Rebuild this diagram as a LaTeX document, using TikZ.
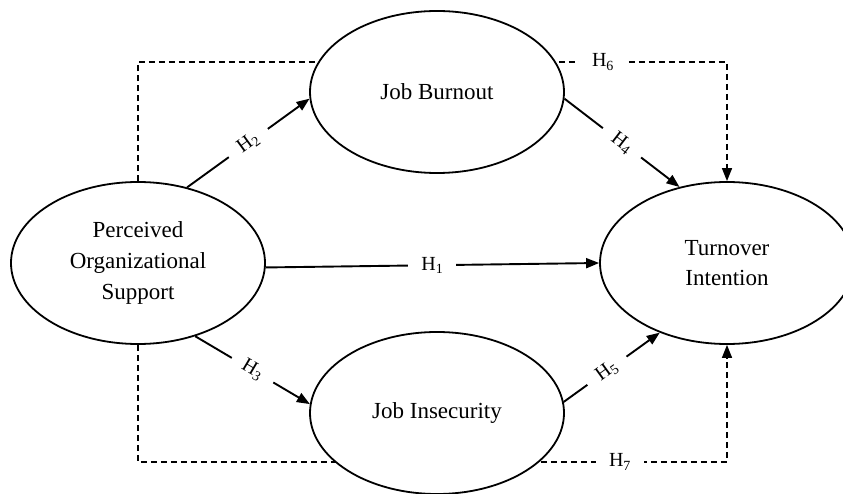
\documentclass[tikz,border=0pt]{standalone}
\usepackage{fontspec}
\setmainfont{Liberation Serif}
\usetikzlibrary{shapes.geometric,arrows.meta,backgrounds}
\begin{document}
\begin{tikzpicture}[x=1pt,y=-1pt,
  latent/.style={ellipse,draw,line width=1.8pt,fill=white,minimum width=254pt,minimum height=162pt,inner sep=0pt,align=center,font=\fontsize{23}{31}\selectfont},
  hpath/.style={line width=1.9pt,-{Triangle[length=13pt,width=10pt]}},
  dpath/.style={line width=1.5pt,dash pattern=on 6pt off 4pt,-{Triangle[length=13pt,width=10pt]}},
  hlab/.style={fill=white,inner xsep=13pt,inner ysep=3pt,font=\fontsize{20}{22}\selectfont}]
\useasboundingbox (0,0) rectangle (843,494);
\node[latent] (POS) at (138,263) {Perceived\\Organizational\\Support};
\node[latent] (JB) at (437,92) {Job Burnout};
\node[latent] (JI) at (437,413) {Job Insecurity};
\node[latent,font=\fontsize{23}{30}\selectfont] (TI) at (727,263) {Turnover\\Intention};
\coordinate (tl) at (138,62);
\coordinate (tr) at (727,62);
\coordinate (bl) at (138,462);
\coordinate (br) at (727,462);
\begin{scope}[on background layer]
  \fill[white] (0,0) rectangle (843,494);
  \draw[dpath] (POS.north) -- (tl) -- (tr) -- (TI.north);
  \node[hlab] (h6) at (603,62) {H\textsubscript{6}};
  \draw[dpath] (POS.south) -- (bl) -- (br) -- (TI.south);
  \node[hlab] (h7) at (620,462) {H\textsubscript{7}};
\end{scope}
\draw[hpath] (POS.-2) -- node[hlab] (h1) {H\textsubscript{1}} (TI.180);
\draw[hpath] (POS.57) -- node[hlab,sloped] (h2) {H\textsubscript{2}} (JB.183);
\draw[hpath] (POS.-52) -- node[hlab,sloped] (h3) {H\textsubscript{3}} (JI.176);
\draw[hpath] (JB.-3) -- node[hlab,sloped] (h4) {H\textsubscript{4}} (TI.122);
\draw[hpath] (JI.5) -- node[hlab,sloped,pos=0.45] (h5) {H\textsubscript{5}} (TI.226);
\end{tikzpicture}
\end{document}
